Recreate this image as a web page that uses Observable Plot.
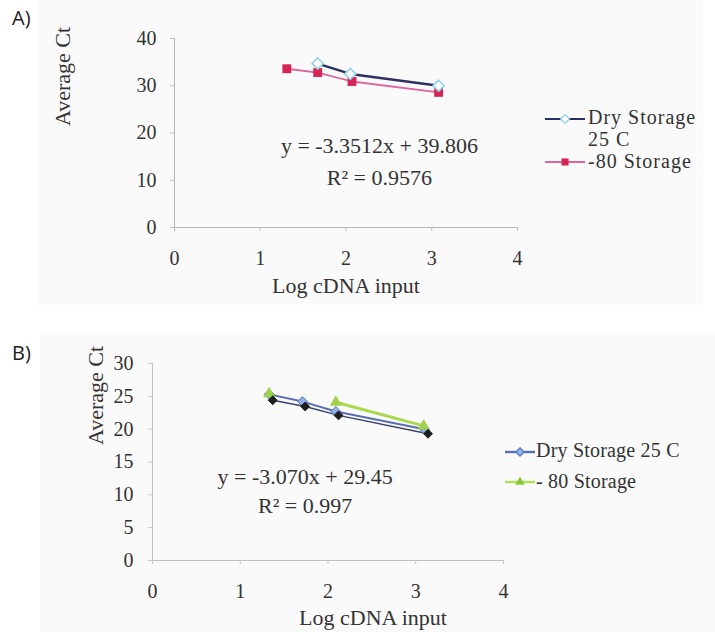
<!DOCTYPE html>
<html>
<head>
<meta charset="utf-8">
<script src="https://cdn.jsdelivr.net/npm/d3@7"></script>
<script src="https://cdn.jsdelivr.net/npm/@observablehq/plot@0.6"></script>
<style>
  html, body { margin: 0; padding: 0; background: #fff; }
  #wrap { position: relative; width: 715px; height: 632px; overflow: hidden; background: #fff; }
  #wrap > svg, #wrap > figure { position: absolute; left: 0; margin: 0; }
</style>
</head>
<body>
<div id="wrap"></div>
<script>
// ---------- data ----------
const xTicks = [0, 1, 2, 3, 4];
const yTicksA = [0, 10, 20, 30, 40];
const yTicksB = [0, 5, 10, 15, 20, 25, 30];

const seriesA = ["Dry Storage", "25 C", "-80 Storage"];
const dryA_x = [1.67, 2.05, 3.08];
const dryA_y = [34.7, 32.5, 30.0];
const m80A_x = [1.31, 1.67, 2.07, 3.08];
const m80A_y = [33.6, 32.8, 30.9, 28.6];
const eqA = ["y = -3.3512x + 39.806", "R\u00B2 = 0.9576"];

const seriesB = ["Dry Storage 25 C", "- 80 Storage"];
const dryB_x = [1.33, 1.71, 2.09, 3.10];
const dryB_y = [25.3, 24.2, 22.7, 20.0];
const darkB_x = [1.37, 1.74, 2.12, 3.14];
const darkB_y = [24.4, 23.45, 22.1, 19.3];
const m80B_x = [1.33, 2.09, 3.09];
const m80B_y = [25.4, 24.1, 20.5];
const eqB = ["y = -3.070x + 29.45", "R\u00B2 = 0.997"];

const axisTitles = { x: "Log cDNA input", y: "Average Ct" };
const panelLabels = ["A)", "B)"];

// ---------- helpers ----------
const pts = (xs, ys) => xs.map((x, i) => ({ x, y: ys[i] }));
const dryA = pts(dryA_x, dryA_y), m80A = pts(m80A_x, m80A_y);
const dryB = pts(dryB_x, dryB_y), darkB = pts(darkB_x, darkB_y), m80B = pts(m80B_x, m80B_y);

const FONT = "'Liberation Serif', 'Times New Roman', serif";
const wrap = document.getElementById("wrap");
const fmt = d3.format("d");

// ---------- background panels + labels ----------
const bg = d3.create("svg").attr("width", 715).attr("height", 632).style("top", "0px");
bg.append("rect").attr("x", 38).attr("y", 0).attr("width", 665).attr("height", 305).attr("fill", "#fafafa");
bg.append("rect").attr("x", 40).attr("y", 332).attr("width", 675).attr("height", 300).attr("fill", "#fafafa");
bg.selectAll("text.pl").data(panelLabels).join("text")
  .attr("x", 12).attr("y", (d, i) => i === 0 ? 25 : 360)
  .attr("font-family", "'Open Sans', 'Liberation Sans', sans-serif").attr("font-size", 20)
  .attr("fill", "#222").text(d => d);
wrap.appendChild(bg.node());

// ---------- Panel A ----------
const plotA = Plot.plot({
  width: 715, height: 310,
  marginLeft: 174, marginRight: 198, marginTop: 38, marginBottom: 83,
  style: { background: "transparent", fontFamily: FONT, overflow: "visible" },
  x: { domain: [0, 4] },
  y: { domain: [0, 40] },
  marks: [
    Plot.ruleY([0], { stroke: "#b5b5b5" }),
    Plot.ruleX([0], { stroke: "#b5b5b5" }),
    Plot.axisX({ ticks: xTicks, tickFormat: fmt, tickSize: 4, tickPadding: 19, label: null, fontSize: 20, stroke: "#c0c0c0", fill: "#333" }),
    Plot.axisY({ ticks: yTicksA, tickFormat: fmt, tickSize: 4, tickPadding: 14, label: null, fontSize: 20, stroke: "#c0c0c0", fill: "#333" }),
    Plot.line(m80A, { x: "x", y: "y", stroke: "#e0639c", strokeWidth: 1.8 }),
    Plot.line(dryA, { x: "x", y: "y", stroke: "#2c2f66", strokeWidth: 2.4 }),
    Plot.dot(m80A, { x: "x", y: "y", symbol: "square", fill: "#d52352", r: 5 }),
    Plot.dot(dryA, { x: "x", y: "y", symbol: "diamond2", fill: "white", stroke: "#8fd3ea", strokeWidth: 1.6, r: 5 }),
    Plot.text(eqA, { x: () => 2.39, y: (d, i) => i === 0 ? 15.7 : 9.1, lineAnchor: "bottom", textAnchor: "middle", fontSize: 22, fill: "#333" }),
    Plot.text([axisTitles.x], { frameAnchor: "bottom", dy: 58, lineAnchor: "middle", fontSize: 22, fill: "#333" }),
    Plot.text([axisTitles.y], { frameAnchor: "left", dx: -112, dy: -7, rotate: -90, lineAnchor: "middle", fontSize: 22, fill: "#333" })
  ]
});
plotA.style.top = "0px";
wrap.appendChild(plotA);

// ---------- Panel B ----------
const plotB = Plot.plot({
  width: 715, height: 322,
  marginLeft: 152, marginRight: 212, marginTop: 53, marginBottom: 72,
  style: { background: "transparent", fontFamily: FONT, overflow: "visible" },
  x: { domain: [0, 4] },
  y: { domain: [0, 30] },
  marks: [
    Plot.ruleY([0], { stroke: "#c0c0c0" }),
    Plot.ruleX([0], { stroke: "#c0c0c0" }),
    Plot.axisX({ ticks: xTicks, tickFormat: fmt, tickSize: 4, tickPadding: 19, label: null, fontSize: 20, stroke: "#c8c8c8", fill: "#333" }),
    Plot.axisY({ ticks: yTicksB, tickFormat: fmt, tickSize: 4, tickPadding: 15, label: null, fontSize: 20, stroke: "#c8c8c8", fill: "#333" }),
    Plot.line(m80B.slice(1), { x: "x", y: "y", stroke: "#a9d94a", strokeWidth: 3 }),
    Plot.line(dryB, { x: "x", y: "y", stroke: "#5a6db4", strokeWidth: 2 }),
    Plot.line(darkB, { x: "x", y: "y", stroke: "#3a3f72", strokeWidth: 1.4 }),
    Plot.dot(dryB, { x: "x", y: "y", symbol: "diamond2", fill: "#8fb0e2", stroke: "#5a7cc4", strokeWidth: 1, r: 4.5 }),
    Plot.dot(m80B, { x: "x", y: "y", symbol: "triangle", fill: "#9fd14a", r: 4.5 }),
    Plot.dot(darkB, { x: "x", y: "y", symbol: "diamond2", fill: "#1d1d1d", stroke: "#1d1d1d", strokeWidth: 1, r: 4 }),
    Plot.text(eqB, { x: () => 1.74, y: (d, i) => i === 0 ? 11.7 : 7.3, lineAnchor: "bottom", textAnchor: "middle", fontSize: 22, fill: "#333" }),
    Plot.text([axisTitles.x], { frameAnchor: "bottom", dx: 45, dy: 57, lineAnchor: "middle", fontSize: 22, fill: "#333" }),
    Plot.text([axisTitles.y], { frameAnchor: "left", dx: -57, dy: -17, rotate: -90, lineAnchor: "middle", fontSize: 22, fill: "#333" })
  ]
});
plotB.style.top = "310px";
wrap.appendChild(plotB);

// ---------- Legends ----------
const lg = d3.create("svg").attr("width", 715).attr("height", 632).style("top", "0px").style("pointer-events", "none");
function swatch(g, x0, x1, y, line, sym) {
  g.append("line").attr("x1", x0).attr("x2", x1).attr("y1", y).attr("y2", y)
    .attr("stroke", line.color).attr("stroke-width", line.width);
  const cx = (x0 + x1) / 2;
  const path = d3.symbol().type(sym.type).size(sym.size)();
  g.append("path").attr("d", path).attr("transform", `translate(${cx},${y})`)
    .attr("fill", sym.fill).attr("stroke", sym.stroke || "none").attr("stroke-width", 1.3);
}
// A
swatch(lg, 545, 585, 119, { color: "#2c2f66", width: 2.2 }, { type: d3.symbolDiamond2, size: 50, fill: "white", stroke: "#8fd3ea" });
swatch(lg, 545, 585, 162, { color: "#e0639c", width: 2 }, { type: d3.symbolSquare, size: 50, fill: "#d52352" });
const la = lg.append("g").attr("font-family", FONT).attr("font-size", 20).attr("fill", "#333").attr("letter-spacing", 1);
la.append("text").attr("x", 588).attr("y", 124).text(seriesA[0]);
la.append("text").attr("x", 588).attr("y", 146).text(seriesA[1]);
la.append("text").attr("x", 588).attr("y", 168).text(seriesA[2]);
// B
swatch(lg, 505, 535, 452, { color: "#5a6db4", width: 2.4 }, { type: d3.symbolDiamond2, size: 45, fill: "#8fb0e2", stroke: "#5a7cc4" });
swatch(lg, 505, 535, 482, { color: "#b3e05a", width: 2.4 }, { type: d3.symbolTriangle, size: 40, fill: "#8cc83a" });
const lb = lg.append("g").attr("font-family", FONT).attr("font-size", 20).attr("fill", "#333").attr("letter-spacing", 0.2);
lb.append("text").attr("x", 536).attr("y", 457).text(seriesB[0]);
lb.append("text").attr("x", 536).attr("y", 488).text(seriesB[1]);
wrap.appendChild(lg.node());
</script>
</body>
</html>
